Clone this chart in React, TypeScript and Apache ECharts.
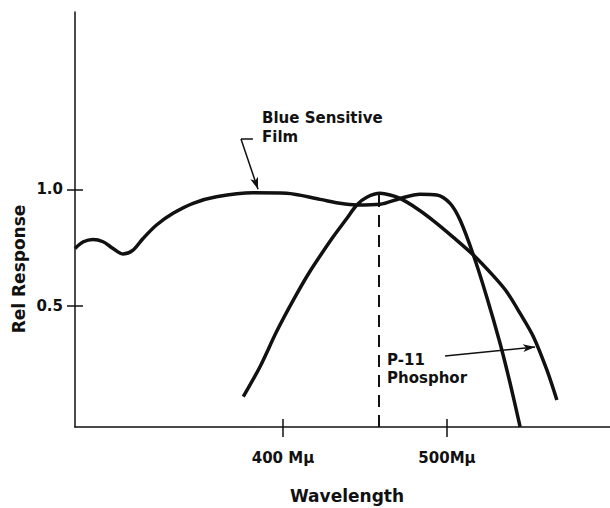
import React, { useEffect, useRef } from "react";
import * as echarts from "echarts";

// Blue sensitive film response (wavelength in mμ, relative response)
const filmWavelength = [273.2, 278.3, 284.2, 290.3, 296.4, 302.5, 308.6, 314.7, 322.9, 333.0, 345.2, 359.4, 381.7, 402.1, 422.6, 434.8, 445.0, 459.2, 471.4, 483.6, 493.8, 501.9, 508.0, 516.1, 524.2, 532.4, 538.5, 544.6];
const filmResponse = [0.746, 0.775, 0.785, 0.775, 0.746, 0.722, 0.739, 0.789, 0.847, 0.897, 0.94, 0.968, 0.985, 0.983, 0.957, 0.94, 0.933, 0.936, 0.961, 0.979, 0.976, 0.94, 0.868, 0.718, 0.539, 0.338, 0.167, -0.02];

// P-11 phosphor emission
const phosphorWavelength = [375.8, 386.0, 396.2, 406.3, 416.5, 430.5, 438.9, 445.0, 451.1, 459.2, 465.3, 471.4, 481.6, 491.8, 503.9, 516.1, 528.3, 536.4, 544.6, 552.7, 560.9, 567.0];
const phosphorResponse = [0.109, 0.238, 0.39, 0.524, 0.648, 0.795, 0.875, 0.933, 0.966, 0.983, 0.976, 0.961, 0.918, 0.865, 0.794, 0.718, 0.628, 0.56, 0.467, 0.367, 0.224, 0.095];

const phosphorPeak = 458.5;
const xTickValues = [400, 500];
const xTickLabels = ["400 Mμ", "500Mμ"];
const yTickValues = [0.5, 1.0];
const yTickLabels = ["0.5", "1.0"];

const X_MIN = 273.2;
const X_MAX = 599.4;
const Y_MIN = -0.021;
const Y_MAX = 1.762;

const FONT = '"DejaVu Sans", sans-serif';
const INK = "#111";

export default function App() {
  const ref = useRef<HTMLDivElement>(null);
  useEffect(() => {
    const chart = echarts.init(ref.current!, null, { renderer: "svg" });
    const film = filmWavelength.map((w, i) => [w, filmResponse[i]]);
    const phosphor = phosphorWavelength.map((w, i) => [w, phosphorResponse[i]]);
    const txt = { fontFamily: FONT, fontWeight: "bold" as const, color: INK };
    chart.setOption({
      animation: false,
      backgroundColor: "#fff",
      grid: { left: 75, right: 0, top: 12, bottom: 81, containLabel: false },
      xAxis: [
        {
          type: "value",
          min: X_MIN,
          max: X_MAX,
          axisLine: { show: true, onZero: false, lineStyle: { color: INK, width: 1.5 } },
          axisTick: { show: true, customValues: xTickValues, length: 10, lineStyle: { color: INK, width: 1.5 } },
          axisLabel: {
            show: true,
            customValues: xTickValues,
            margin: 23,
            fontSize: 15,
            ...txt,
            formatter: (v: number) => xTickLabels[xTickValues.indexOf(v)] ?? "",
          },
          splitLine: { show: false },
        },
        {
          type: "value",
          min: X_MIN,
          max: X_MAX,
          position: "bottom",
          axisLine: { show: false, onZero: false },
          axisTick: { show: true, inside: true, customValues: xTickValues, length: 8, lineStyle: { color: INK, width: 1.5 } },
          axisLabel: { show: false },
          splitLine: { show: false },
        },
      ],
      yAxis: [
        {
          type: "value",
          min: Y_MIN,
          max: Y_MAX,
          axisLine: { show: true, onZero: false, lineStyle: { color: INK, width: 1.5 } },
          axisTick: { show: true, customValues: yTickValues, length: 8, lineStyle: { color: INK, width: 1.5 } },
          axisLabel: {
            show: true,
            customValues: yTickValues,
            margin: 12,
            fontSize: 15,
            ...txt,
            formatter: (v: number) => yTickLabels[yTickValues.indexOf(v)] ?? "",
          },
          splitLine: { show: false },
        },
        {
          type: "value",
          min: Y_MIN,
          max: Y_MAX,
          position: "left",
          axisLine: { show: false, onZero: false },
          axisTick: { show: true, inside: true, customValues: yTickValues, length: 8, lineStyle: { color: INK, width: 1.5 } },
          axisLabel: { show: false },
          splitLine: { show: false },
        },
      ],
      series: [
        {
          name: "Blue Sensitive Film",
          type: "line",
          data: film,
          smooth: 0.3,
          showSymbol: false,
          lineStyle: { color: INK, width: 3.5 },
          markLine: {
            silent: true,
            symbol: ["none", "none"],
            label: { show: false },
            lineStyle: { color: INK, width: 1.5, type: "solid" },
            data: [
              [
                { coord: [381.7, 1.216], symbol: "none" },
                { coord: [374.4, 1.216], symbol: "none" },
              ],
              [
                { coord: [374.4, 1.216], symbol: "none" },
                { coord: [384.8, 1.0], symbol: "arrow", symbolSize: [6, 12] },
              ],
            ],
          },
        },
        {
          name: "P-11 Phosphor",
          type: "line",
          data: phosphor,
          smooth: 0.3,
          showSymbol: false,
          lineStyle: { color: INK, width: 3.5 },
          markLine: {
            silent: true,
            symbol: ["none", "none"],
            label: { show: false },
            data: [
              [
                { coord: [phosphorPeak, Y_MIN], symbol: "none", lineStyle: { color: INK, width: 2, type: [12, 8] } },
                { coord: [phosphorPeak, 0.984], symbol: "none" },
              ],
              [
                { coord: [498.8, 0.284], symbol: "none", lineStyle: { color: INK, width: 1.5, type: "solid" } },
                { coord: [553.7, 0.323], symbol: "arrow", symbolSize: [6, 12] },
              ],
            ],
          },
        },
      ],
      graphic: [
        { type: "text", x: 262, y: 118, style: { text: "Blue Sensitive", font: `bold 15px ${FONT}`, fill: INK, verticalAlign: "middle" } },
        { type: "text", x: 262, y: 137, style: { text: "Film", font: `bold 15px ${FONT}`, fill: INK, verticalAlign: "middle" } },
        { type: "text", x: 387, y: 360, style: { text: "P-11", font: `bold 15px ${FONT}`, fill: INK, verticalAlign: "middle" } },
        { type: "text", x: 387, y: 378, style: { text: "Phosphor", font: `bold 15px ${FONT}`, fill: INK, verticalAlign: "middle" } },
        { type: "text", x: 347, y: 496, style: { text: "Wavelength", font: `bold 17px ${FONT}`, fill: INK, align: "center", verticalAlign: "middle" } },
        { type: "text", x: 19, y: 269, rotation: Math.PI / 2, style: { text: "Rel Response", font: `bold 17px ${FONT}`, fill: INK, align: "center", verticalAlign: "middle" } },
      ],
    });
    return () => chart.dispose();
  }, []);
  return <div ref={ref} style={{ position: "fixed", left: 0, top: 0, width: 610, height: 508 }} />;
}
